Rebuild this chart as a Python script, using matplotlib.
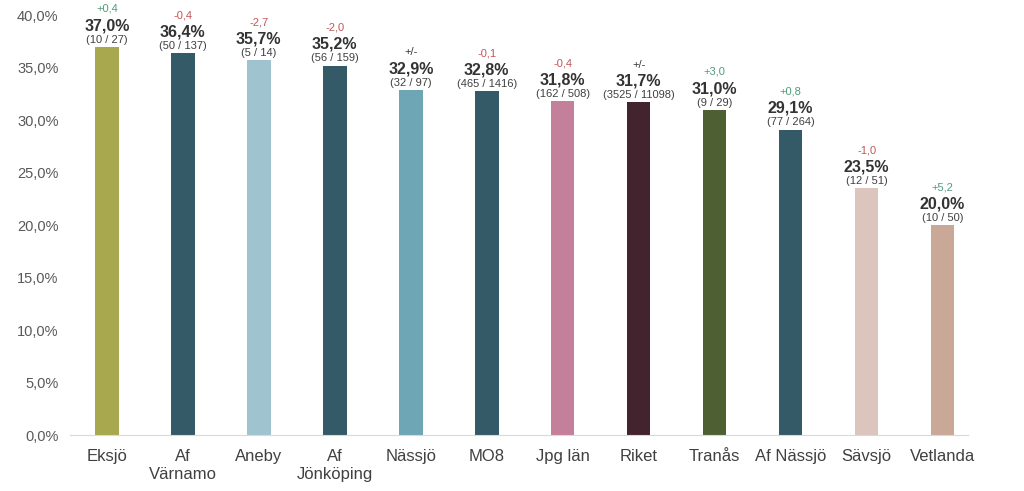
import matplotlib.pyplot as plt
from matplotlib.ticker import FuncFormatter

plt.rcParams['font.family'] = ['Liberation Sans', 'DejaVu Sans']

categories = ["Eksjö", "Af\nVärnamo", "Aneby", "Af\nJönköping", "Nässjö", "MO8",
              "Jpg län", "Riket", "Tranås", "Af Nässjö", "Sävsjö", "Vetlanda"]
values = [37.0, 36.4, 35.7, 35.2, 32.9, 32.8, 31.8, 31.7, 31.0, 29.1, 23.5, 20.0]
counts = ["(10 / 27)", "(50 / 137)", "(5 / 14)", "(56 / 159)", "(32 / 97)", "(465 / 1416)",
          "(162 / 508)", "(3525 / 11098)", "(9 / 29)", "(77 / 264)", "(12 / 51)", "(10 / 50)"]
changes = ["+0,4", "-0,4", "-2,7", "-2,0", "+/-", "-0,1", "-0,4", "+/-", "+3,0", "+0,8", "-1,0", "+5,2"]
colors = ["#a8a84f", "#335a66", "#9fc4cf", "#335a66", "#6ea6b6", "#335a66",
          "#c47f9a", "#42232e", "#4e5f33", "#335a66", "#dcc5bc", "#c9a898"]

def change_color(s):
    if s.startswith("+/-"):
        return "#333333"
    if s.startswith("+"):
        return "#4f9a7a"
    return "#c05656"

fig = plt.figure(figsize=(10.24, 4.91), dpi=100)
ax = fig.add_axes([0.068, 0.114, 0.877, 0.855])

x = list(range(len(categories)))
ax.bar(x, values, width=0.31, color=colors)

for i, v in enumerate(values):
    ax.annotate(counts[i], (i, v), xytext=(0, 3), textcoords="offset points",
                ha="center", va="baseline", fontsize=8, color="#404040", annotation_clip=False)
    ax.annotate(f"{v:.1f}%".replace(".", ","), (i, v), xytext=(0, 12), textcoords="offset points",
                ha="center", va="baseline", fontsize=11.5, fontweight="bold", color="#333333",
                annotation_clip=False)
    ax.annotate(changes[i], (i, v), xytext=(0, 25), textcoords="offset points",
                ha="center", va="baseline", fontsize=8, color=change_color(changes[i]),
                annotation_clip=False)

ax.set_ylim(0, 40)
ax.set_xlim(-0.49, 11.33)
ax.set_yticks(range(0, 41, 5))
ax.yaxis.set_major_formatter(FuncFormatter(lambda y, p: f"{y:.1f}%".replace(".", ",")))
ax.set_xticks(x)
ax.set_xticklabels(categories, fontsize=12, color="#404040", linespacing=1.25)
ax.tick_params(axis="y", labelsize=10.5, colors="#595959", length=0, pad=8)
ax.tick_params(axis="x", length=0, pad=10)

for s in ["top", "right", "left"]:
    ax.spines[s].set_visible(False)
ax.spines["bottom"].set_color("#d9d9d9")

fig.savefig("out.png")
